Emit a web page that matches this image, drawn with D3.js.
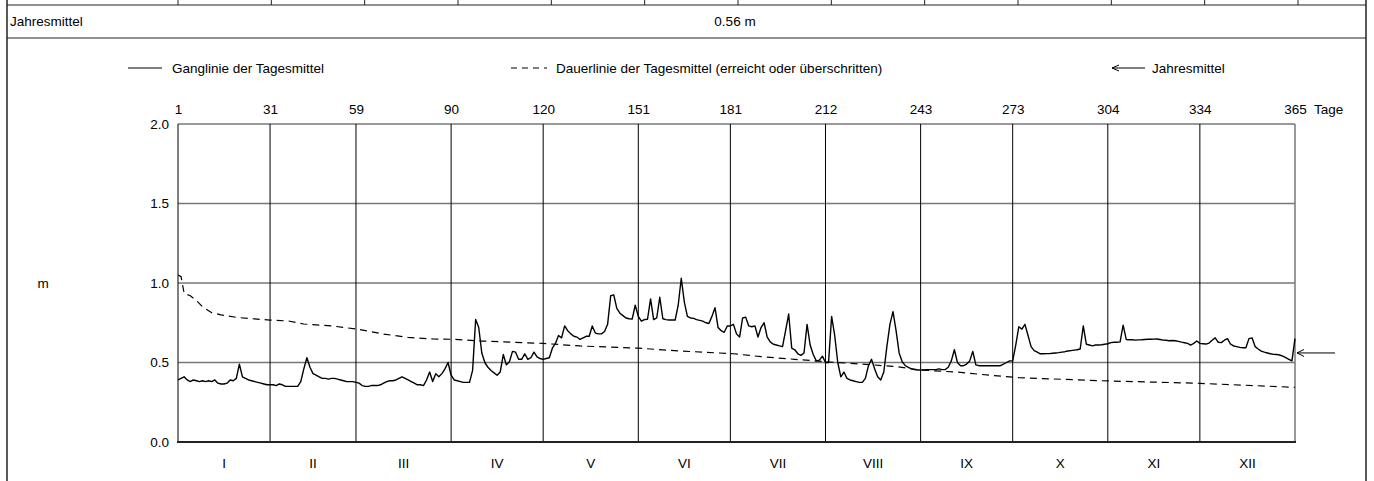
<!DOCTYPE html>
<html>
<head>
<meta charset="utf-8">
<script src="https://cdn.jsdelivr.net/npm/d3@7"></script>
<style>
  body { margin: 0; background: #fff; }
  svg { display: block; font-family: "Liberation Sans", Arial, sans-serif; font-size: 13.5px; }
</style>
</head>
<body>
<div id="chart"></div>
<script>
// Tagesmittel, pro Monat
const jan = [0.39,0.40,0.41,0.39,0.38,0.39,0.385,0.38,0.385,0.38,0.385,0.38,0.39,0.37,0.365,0.365,0.37,0.39,0.385,0.40,0.49,0.41,0.40,0.39,0.385,0.38,0.375,0.37,0.365,0.36,0.36];
const feb = [0.36,0.355,0.365,0.36,0.35,0.35,0.35,0.35,0.35,0.38,0.46,0.53,0.47,0.43,0.42,0.41,0.40,0.40,0.395,0.40,0.40,0.395,0.39,0.385,0.38,0.38,0.38,0.375];
const mar = [0.37,0.355,0.35,0.35,0.355,0.355,0.355,0.36,0.37,0.38,0.385,0.385,0.39,0.40,0.41,0.40,0.39,0.38,0.37,0.36,0.36,0.355,0.39,0.44,0.38,0.43,0.41,0.43,0.46,0.50,0.42];
const apr = [0.39,0.385,0.38,0.375,0.375,0.375,0.45,0.77,0.72,0.56,0.50,0.47,0.45,0.435,0.42,0.44,0.55,0.485,0.505,0.57,0.565,0.52,0.52,0.555,0.52,0.53,0.565,0.535,0.525,0.52];
const may = [0.525,0.53,0.59,0.62,0.67,0.655,0.73,0.70,0.68,0.665,0.66,0.645,0.655,0.665,0.665,0.73,0.685,0.68,0.68,0.695,0.74,0.92,0.925,0.84,0.81,0.795,0.78,0.775,0.773,0.86,0.79];
const jun = [0.76,0.77,0.772,0.90,0.77,0.78,0.91,0.775,0.77,0.767,0.767,0.767,0.86,1.03,0.88,0.79,0.78,0.778,0.77,0.765,0.76,0.75,0.745,0.79,0.845,0.72,0.70,0.69,0.73,0.73];
const jul = [0.74,0.68,0.66,0.78,0.785,0.73,0.725,0.73,0.66,0.72,0.75,0.66,0.63,0.615,0.61,0.605,0.60,0.70,0.805,0.59,0.58,0.555,0.545,0.56,0.74,0.61,0.55,0.51,0.515,0.54,0.50];
const aug = [0.50,0.79,0.67,0.50,0.41,0.44,0.40,0.39,0.385,0.38,0.375,0.375,0.40,0.48,0.52,0.46,0.41,0.39,0.44,0.60,0.74,0.82,0.70,0.56,0.505,0.48,0.47,0.46,0.455,0.453,0.453];
const sep = [0.453,0.455,0.455,0.455,0.455,0.46,0.455,0.455,0.47,0.51,0.58,0.50,0.48,0.48,0.49,0.51,0.57,0.485,0.48,0.48,0.48,0.48,0.48,0.48,0.48,0.48,0.49,0.50,0.51,0.51];
const oct = [0.61,0.725,0.71,0.74,0.67,0.60,0.575,0.565,0.555,0.555,0.556,0.556,0.558,0.56,0.562,0.565,0.568,0.572,0.575,0.578,0.58,0.585,0.73,0.615,0.61,0.605,0.61,0.61,0.612,0.615,0.618];
const nov = [0.625,0.627,0.627,0.63,0.735,0.645,0.643,0.643,0.641,0.642,0.643,0.645,0.646,0.646,0.647,0.648,0.645,0.641,0.64,0.637,0.638,0.637,0.633,0.628,0.624,0.62,0.61,0.62,0.635,0.62];
const dec = [0.618,0.616,0.622,0.64,0.655,0.627,0.625,0.64,0.65,0.615,0.604,0.60,0.595,0.593,0.593,0.65,0.655,0.60,0.585,0.572,0.565,0.56,0.555,0.551,0.55,0.547,0.54,0.53,0.52,0.51,0.65];

// Dauerlinie (erreicht oder ueberschritten)
const dauerDays   = [1, 2, 3, 5, 7, 9, 12, 15, 20, 26, 31, 37, 42, 51, 59, 68, 76, 84, 91, 100, 120, 132, 151, 165, 182, 191, 202, 212, 224, 235, 243, 256, 267, 275, 281, 304, 334, 365];
const dauerValues = [1.05, 1.04, 0.935, 0.92, 0.89, 0.85, 0.813, 0.80, 0.784, 0.774, 0.767, 0.761, 0.742, 0.73, 0.711, 0.679, 0.658, 0.648, 0.646, 0.635, 0.62, 0.604, 0.59, 0.572, 0.555, 0.537, 0.52, 0.505, 0.49, 0.474, 0.453, 0.438, 0.417, 0.405, 0.40, 0.384, 0.369, 0.344];

const dayTicks = [1, 31, 59, 90, 120, 151, 181, 212, 243, 273, 304, 334, 365];
const monthNames = ['I','II','III','IV','V','VI','VII','VIII','IX','X','XI','XII'];
const yTicks = [0, 0.5, 1.0, 1.5, 2.0];
const jahresmittel = 0.56;

const daily = [].concat(jan, feb, mar, apr, may, jun, jul, aug, sep, oct, nov, dec);

const width = 1374, height = 481;
const svg = d3.select('#chart').append('svg')
  .attr('width', width).attr('height', height);

const x = d3.scaleLinear().domain([1, 365]).range([178, 1295]);
const y = d3.scaleLinear().domain([0, 2]).range([442, 124]);

// Rahmen / Tabelle oben
const frameL = 7, frameR = 1366;
svg.append('line').attr('x1', frameL).attr('x2', frameL).attr('y1', 0).attr('y2', height)
  .attr('stroke', '#222').attr('stroke-width', 1.5);
svg.append('line').attr('x1', frameR).attr('x2', frameR).attr('y1', 0).attr('y2', height)
  .attr('stroke', '#222').attr('stroke-width', 1.5);
[5, 38].forEach(yy => {
  svg.append('line').attr('x1', frameL).attr('x2', frameR).attr('y1', yy).attr('y2', yy)
    .attr('stroke', '#222').attr('stroke-width', 1.2);
});
const colScale = d3.scaleLinear().domain([0, 12]).range([178, 1298]);
svg.selectAll('.colsep').data(d3.range(13)).enter().append('line')
  .attr('x1', d => colScale(d)).attr('x2', d => colScale(d))
  .attr('y1', 0).attr('y2', 5).attr('stroke', '#222');

svg.append('text').attr('x', 10).attr('y', 26).text('Jahresmittel');
svg.append('text').attr('x', 735).attr('y', 26).attr('text-anchor', 'middle')
  .text(d3.format('.2f')(jahresmittel) + ' m');

// Legende
const lg = svg.append('g');
lg.append('line').attr('x1', 128).attr('x2', 162).attr('y1', 68).attr('y2', 68)
  .attr('stroke', '#000').attr('stroke-width', 1.2);
lg.append('text').attr('x', 172).attr('y', 73).text('Ganglinie der Tagesmittel');
lg.append('line').attr('x1', 511).attr('x2', 547).attr('y1', 68).attr('y2', 68)
  .attr('stroke', '#000').attr('stroke-width', 1.2).attr('stroke-dasharray', '6,5');
lg.append('text').attr('x', 556).attr('y', 73).text('Dauerlinie der Tagesmittel (erreicht oder überschritten)');
lg.append('line').attr('x1', 1112).attr('x2', 1145).attr('y1', 68).attr('y2', 68)
  .attr('stroke', '#000').attr('stroke-width', 1);
lg.append('path').attr('d', 'M1119,65 L1112,68 L1119,71')
  .attr('fill', 'none').attr('stroke', '#000').attr('stroke-width', 1);
lg.append('text').attr('x', 1152).attr('y', 73).text('Jahresmittel');

// Gitter
svg.selectAll('.hgrid').data(yTicks.filter(d => d > 0)).enter().append('line')
  .attr('x1', x(1)).attr('x2', x(365))
  .attr('y1', d => y(d)).attr('y2', d => y(d))
  .attr('stroke', '#777').attr('stroke-width', 1.5);
svg.selectAll('.vgrid').data(dayTicks).enter().append('line')
  .attr('x1', d => x(d)).attr('x2', d => x(d))
  .attr('y1', y(2)).attr('y2', y(0))
  .attr('stroke', d => d === 365 ? '#777' : '#000')
  .attr('stroke-width', d => d === 365 ? 1.5 : 1);
svg.append('line').attr('x1', x(1) - 1).attr('x2', x(365) + 1)
  .attr('y1', y(0)).attr('y2', y(0)).attr('stroke', '#222').attr('stroke-width', 2);

// Achsen
const yAxis = d3.axisLeft(y).tickValues(yTicks).tickSize(0).tickPadding(9)
  .tickFormat(d3.format('.1f'));
const gy = svg.append('g').attr('transform', `translate(${x(1)},0)`).call(yAxis);
gy.select('.domain').remove();

const xAxis = d3.axisTop(x).tickValues(dayTicks).tickSize(0).tickPadding(10)
  .tickFormat(d3.format('d'));
const gx = svg.append('g').attr('transform', `translate(0,${y(2)})`).call(xAxis);
gx.select('.domain').remove();
[gx, gy].forEach(g => g.selectAll('text')
  .attr('font-family', '"Liberation Sans", Arial, sans-serif').attr('font-size', 13.5).attr('fill', '#000'));

svg.append('text').attr('x', 1314).attr('y', 114).text('Tage');
svg.append('text').attr('x', 43).attr('y', y(1) + 5).attr('text-anchor', 'middle').text('m');

svg.selectAll('.month').data(monthNames).enter().append('text')
  .attr('x', (d, i) => (x(dayTicks[i]) + x(dayTicks[i + 1])) / 2)
  .attr('y', 468).attr('text-anchor', 'middle').text(d => d);

// Linien
const line = d3.line().x(d => x(d[0])).y(d => y(d[1]));
svg.append('path')
  .datum(dauerDays.map((d, i) => [d, dauerValues[i]]))
  .attr('d', line).attr('fill', 'none').attr('stroke', '#000')
  .attr('stroke-width', 1.2).attr('stroke-dasharray', '7,5');
svg.append('path')
  .datum(daily.map((v, i) => [i + 1, v]))
  .attr('d', line).attr('fill', 'none').attr('stroke', '#000')
  .attr('stroke-width', 1.4).attr('stroke-linejoin', 'round');

// Pfeil Jahresmittel
const ya = y(jahresmittel);
svg.append('line').attr('x1', x(365) + 2).attr('x2', 1335).attr('y1', ya).attr('y2', ya)
  .attr('stroke', '#000').attr('stroke-width', 1);
svg.append('path').attr('d', `M${x(365) + 9},${ya - 3.5} L${x(365) + 2},${ya} L${x(365) + 9},${ya + 3.5}`)
  .attr('fill', 'none').attr('stroke', '#000').attr('stroke-width', 1);
</script>
</body>
</html>
